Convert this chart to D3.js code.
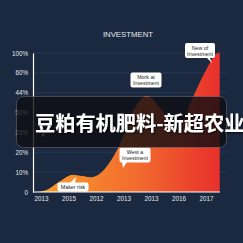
<!DOCTYPE html>
<html>
<head>
<meta charset="utf-8">
<script src="https://cdn.jsdelivr.net/npm/d3@7"></script>
<style>
  html, body { margin: 0; padding: 0; background: #1b2940; }
  svg { display: block; }
</style>
</head>
<body>
<svg id="chart" width="243" height="243"></svg>
<script>
// categories on the x axis
var years = ['2013', '2015', '2012', '2013', '2013', '2016', '2017'];
// y tick labels, bottom to top
var yLabels = ['0', '10%', '20%', '20%', '50%', '44%', '60%', '100%'];
// curve, x in category index units, y in tick units
var curveX = [-0.15, 0.2, 0.7, 1.15, 1.5, 1.8, 2.2, 2.8, 3.4, 3.85, 4.35, 4.95, 5.5, 5.95, 6.45, 6.5];
var curveY = [0, 0.1, 0.55, 0.87, 0.8, 0.74, 1.0, 2.2, 4.2, 4.85, 4.2, 3.1, 4.7, 6.0, 7.0, 7.0];

var svg = d3.select('#chart');

var x = d3.scaleLinear().domain([0, 6]).range([41, 206]);
var y = d3.scaleLinear().domain([0, 7]).range([192, 53]);

// title
svg.append('text').attr('x', 128).attr('y', 37).attr('text-anchor', 'middle')
  .attr('fill', '#e4e8ee').attr('font-family', 'Liberation Sans, Arial, sans-serif')
  .attr('font-size', 7.8).text('INVESTMENT');

// gridlines
svg.append('g').selectAll('line').data(d3.range(1, 8)).join('line')
  .attr('x1', 33).attr('x2', 227)
  .attr('y1', function(d) { return y(d); }).attr('y2', function(d) { return y(d); })
  .attr('stroke', '#2b3a54').attr('stroke-width', 0.8);

// gradient
var defs = svg.append('defs');
var grad = defs.append('linearGradient').attr('id', 'g1')
  .attr('x1', '0').attr('x2', '1').attr('y1', '0').attr('y2', '0');
grad.append('stop').attr('offset', '0%').attr('stop-color', '#f8a02a');
grad.append('stop').attr('offset', '55%').attr('stop-color', '#f26a2e');
grad.append('stop').attr('offset', '100%').attr('stop-color', '#e8302c');

var pts = curveX.map(function(v, i) { return [v, curveY[i]]; });
var area = d3.area()
  .x(function(d) { return x(d[0]); })
  .y0(y(0))
  .y1(function(d) { return y(d[1]); })
  .curve(d3.curveMonotoneX);
svg.append('path').datum(pts).attr('d', area).attr('fill', 'url(#g1)');

// axes
var yAxis = d3.axisLeft(y).tickValues(d3.range(0, 8))
  .tickFormat(function(d) { return yLabels[d]; }).tickSize(0).tickPadding(5);
var gy = svg.append('g').attr('transform', 'translate(33,0)').call(yAxis);
gy.select('.domain').attr('stroke', '#ffffff').attr('stroke-width', 1.2);
gy.selectAll('text').attr('fill', '#e4e8ee').attr('font-size', 6.3)
  .attr('font-family', 'Liberation Sans, Arial, sans-serif');

var xAxis = d3.axisBottom(x).tickValues(d3.range(0, 7))
  .tickFormat(function(d) { return years[d]; }).tickSize(0).tickPadding(5);
var gx = svg.append('g').attr('transform', 'translate(0,192)').call(xAxis);
gx.select('.domain').attr('d', 'M33,0H220').attr('stroke', '#ffffff').attr('stroke-width', 1.2);
gx.selectAll('text').attr('fill', '#e4e8ee').attr('font-size', 6.3)
  .attr('font-family', 'Liberation Sans, Arial, sans-serif');

// callouts
var notes = [
  { lines: ['Maker risk'], cx: 73, cy: 187, w: 31, h: 9, tail: [[70, 183], [76, 177], [75, 183]] },
  { lines: ['West a', 'Investment'], cx: 135, cy: 155, w: 31, h: 15, tail: [[122, 162], [123, 168], [127, 162]] },
  { lines: ['Mork at', 'Investment'], cx: 146, cy: 80, w: 31, h: 15, tail: null },
  { lines: ['New of', 'Investment'], cx: 200, cy: 50.5, w: 30, h: 15, tail: [[207, 58], [212, 63], [210, 58]] },
  { lines: [], cx: 0, cy: 0, w: 0, h: 0, tail: [[43, 133], [41, 137], [46, 134]] }
];
var ng = svg.append('g');
notes.forEach(function(n) {
  if (n.tail) ng.append('path').attr('d', d3.line()(n.tail) + 'Z').attr('fill', '#fff');
  if (!n.lines.length) return;
  ng.append('rect').attr('x', n.cx - n.w / 2).attr('y', n.cy - n.h / 2)
    .attr('width', n.w).attr('height', n.h).attr('rx', 2).attr('fill', '#fff');
  n.lines.forEach(function(t, i) {
    ng.append('text').attr('x', n.cx)
      .attr('y', n.cy + (i - (n.lines.length - 1) / 2) * 6 + 2)
      .attr('text-anchor', 'middle').attr('font-size', 5.3)
      .attr('font-family', 'Liberation Sans, Arial, sans-serif')
      .attr('fill', '#222').text(t);
  });
});

// banner overlay
svg.append('rect').attr('x', 16.5).attr('y', 96.5).attr('width', 210).attr('height', 51)
  .attr('rx', 7).attr('fill', 'rgba(14,14,18,0.8)')
  .attr('stroke', 'rgba(140,140,150,0.5)').attr('stroke-width', 0.8);
defs.append('filter').attr('id', 'sh').append('feDropShadow')
  .attr('dx', 1).attr('dy', 1).attr('stdDeviation', 0.8).attr('flood-color', '#000').attr('flood-opacity', 0.9);
svg.append('text').attr('x', 35).attr('y', 130.5)
  .attr('font-family', 'Noto Sans CJK SC, sans-serif').attr('font-weight', 'bold')
  .attr('font-size', 20.2).attr('fill', '#fff').attr('filter', 'url(#sh)')
  .text('豆粕有机肥料-新超农业');
</script>
</body>
</html>
